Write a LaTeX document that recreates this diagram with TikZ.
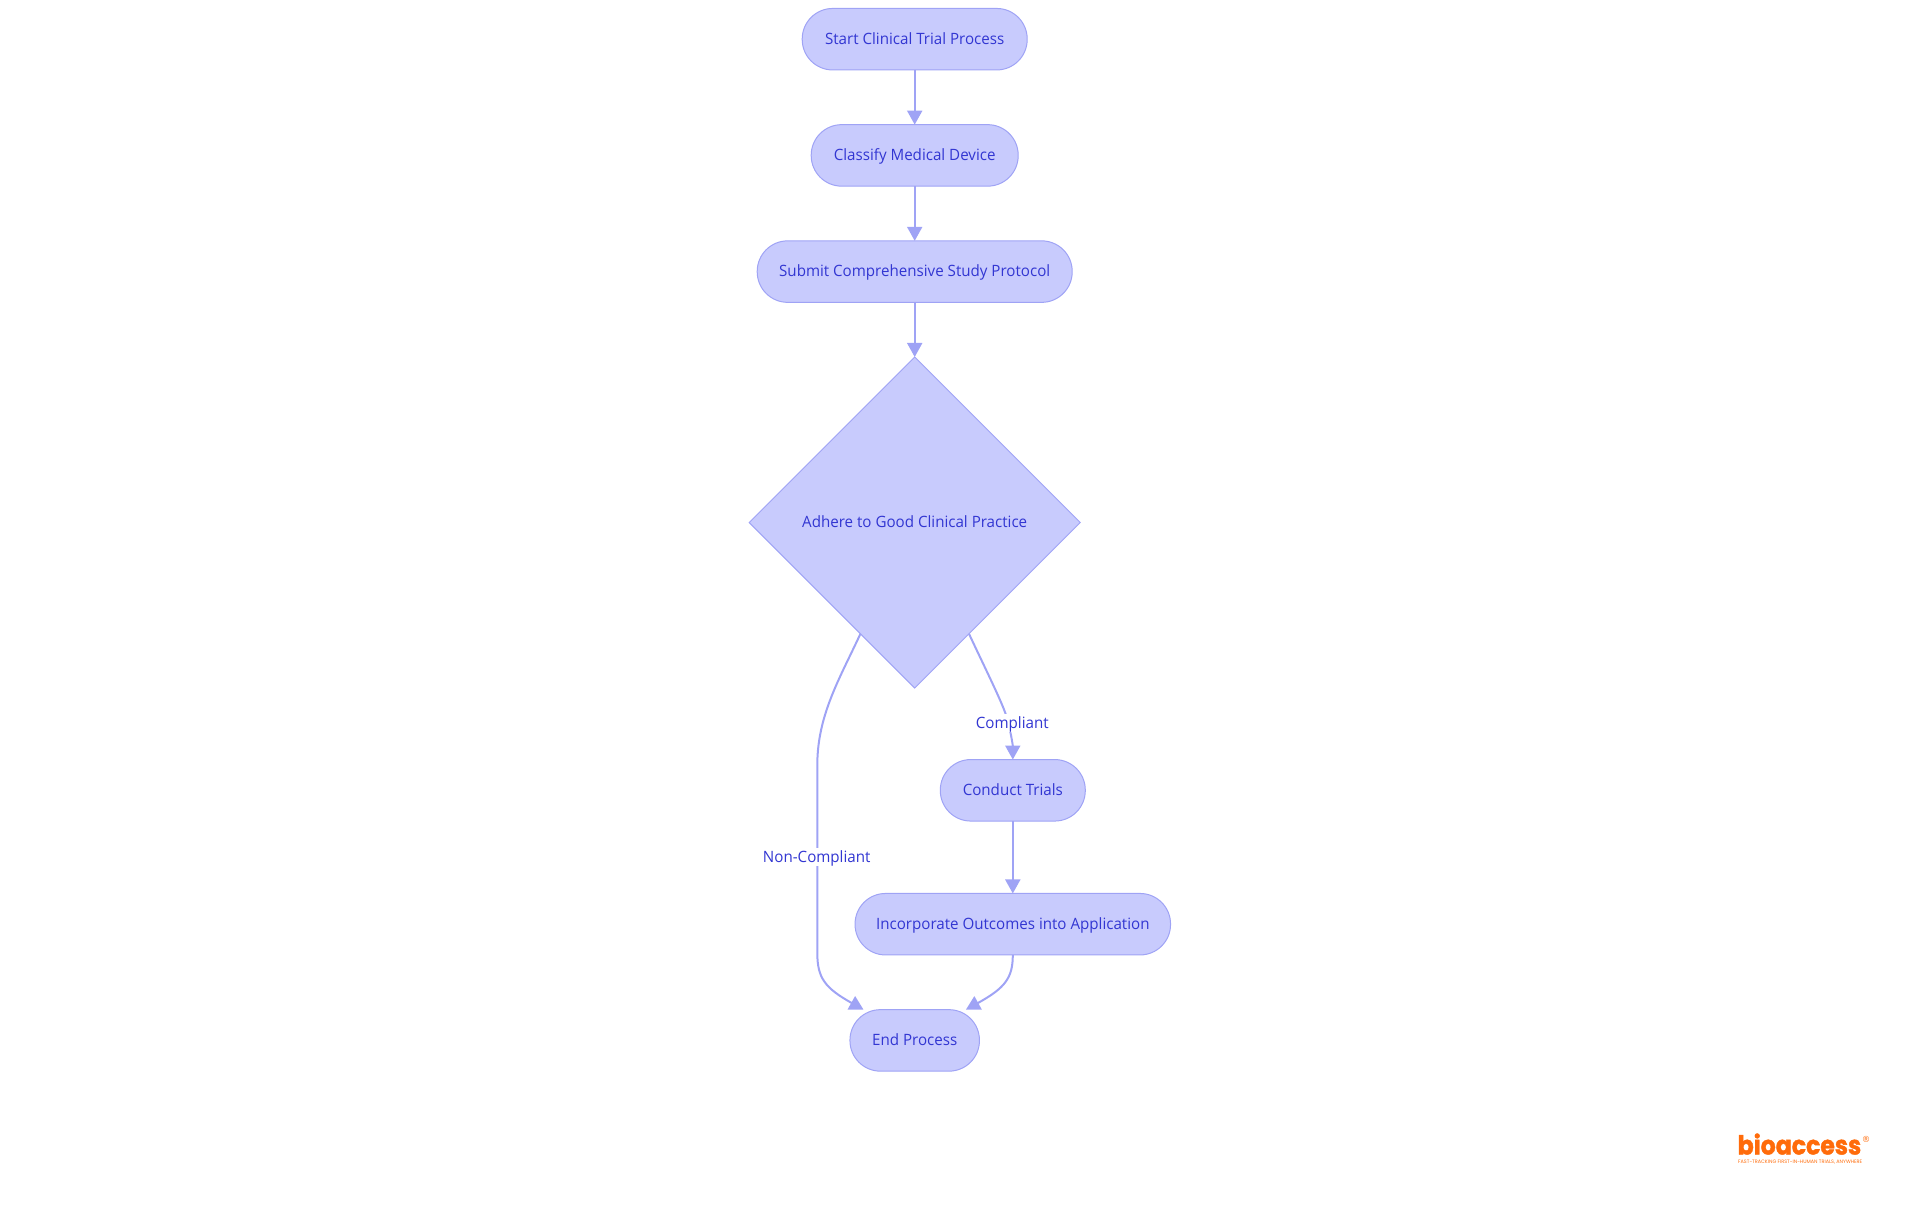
\documentclass[tikz,border=0pt]{standalone}
\usepackage{fontspec}
\usepackage{graphicx}
\setmainfont[FakeStretch=0.97]{Open Sans}
\newfontfamily\logofont[BoldFeatures={FakeBold=1.6}]{Poppins}
\newfontfamily\regfont{DejaVu Sans}
\usetikzlibrary{shapes.geometric,arrows.meta}
\definecolor{nodefill}{HTML}{C8CBFD}
\definecolor{nodeline}{HTML}{9FA3F5}
\definecolor{nodetext}{HTML}{3236D2}
\definecolor{logoorange}{HTML}{FF6B0A}
\tikzset{
  base/.style={fill=nodefill,draw=nodeline,line width=1pt,text=nodetext,inner sep=0pt,outer sep=0pt,text height=15pt,text depth=4.6pt,font=\fontsize{15.6}{18}\selectfont},
  pill/.style={base,rectangle,rounded corners=30.5pt,minimum height=61.5pt},
  decision/.style={base,diamond,aspect=1,minimum width=331pt,minimum height=331pt},
  edge/.style={draw=nodeline,line width=2pt,-{Triangle[width=15pt,length=14pt]}},
  edgelabel/.style={fill=white,text=nodetext,inner sep=0pt,outer sep=0pt,text height=14pt,text depth=4pt,font=\fontsize{15.6}{18}\selectfont}
}
\begin{document}
\begin{tikzpicture}[x=1pt,y=-1pt]
\useasboundingbox (0,0) rectangle (1920,1215);
\node[pill,minimum width=225pt] (start) at (914.7,39.2) {Start Clinical Trial Process};
\node[pill,minimum width=207pt] (classify) at (914.7,155.4) {Classify Medical Device};
\node[pill,minimum width=315pt] (submit) at (914.7,271.6) {Submit Comprehensive Study Protocol};
\node[decision] (gcp) at (914.7,522.5) {Adhere to Good Clinical Practice};
\node[pill,minimum width=145pt] (trials) at (1012.8,790.3) {Conduct Trials};
\node[pill,minimum width=315.5pt] (outcomes) at (1012.8,924.2) {Incorporate Outcomes into Application};
\node[pill,minimum width=129.5pt] (endp) at (914.7,1040.4) {End Process};
\draw[edge] (start) -- (classify);
\draw[edge] (classify) -- (submit);
\draw[edge] (submit) -- (gcp);
\draw[edge] (gcp.244.2) .. controls (840,678) and (817.3,715) .. (817.3,765) -- (817.3,953) .. controls (817.3,978) and (825,988) .. (endp.149.4);
\draw[edge] (gcp.-64.4) .. controls (985,668) and (1001,700) .. (1006,715) .. controls (1010.5,730) and (1012.8,745) .. (trials.north);
\draw[edge] (trials) -- (outcomes);
\draw[edge] (outcomes.south) .. controls (1012.8,978) and (1005,988) .. (endp.31.8);
\node[edgelabel] (lblc) at (1012.3,723) {Compliant};
\node[edgelabel] (lbln) at (816.7,857) {Non-Compliant};
\node[inner sep=0pt,anchor=base west,text=logoorange] (logo) at (1737.5,1154.5) {\resizebox{123.5pt}{21pt}{\logofont\bfseries bioaccess}};
\node[inner sep=0pt,text=logoorange,font=\regfont\fontsize{8.5}{10}\selectfont] (reg) at (1866,1139.5) {\textregistered};
\node[inner sep=0pt,anchor=west,text=logoorange] (tag) at (1738,1162) {\resizebox{124pt}{!}{\logofont\fontsize{6}{7}\selectfont FAST-TRACKING FIRST-IN-HUMAN TRIALS, ANYWHERE}};
\end{tikzpicture}
\end{document}
